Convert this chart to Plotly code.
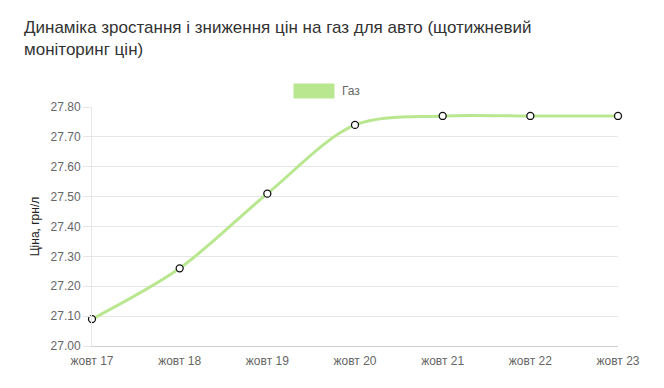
import plotly.graph_objects as go

categories = ["жовт 17", "жовт 18", "жовт 19", "жовт 20", "жовт 21", "жовт 22", "жовт 23"]
gas_prices = [27.09, 27.26, 27.51, 27.74, 27.77, 27.77, 27.77]
series_name = "Газ"
title_text = "Динаміка зростання і зниження цін на газ для авто (щотижневий<br>моніторинг цін)"
y_title = "Ціна, грн/л"

font_family = "Liberation Sans, Arial, sans-serif"
line_color = "#b9e78f"
grid_color = "#e6e6e6"

# page body has an 8px margin, so the figure is sized/offset accordingly
PL, PT, PW, PH = 84, 99, 526, 239

fig = go.Figure()
fig.add_trace(go.Scatter(
    x=categories, y=gas_prices, name=series_name, mode="lines+markers",
    line=dict(color=line_color, width=3, shape="spline", smoothing=0.9),
    marker=dict(size=7, color="white", line=dict(color="#111111", width=1.3)),
    showlegend=False, cliponaxis=False,
))

fig.update_layout(
    width=656, height=380,
    margin=dict(l=PL, r=46, t=PT, b=42, autoexpand=False),
    paper_bgcolor="white", plot_bgcolor="white",
    font=dict(family=font_family, size=12, color="#666666"),
    showlegend=False,
    xaxis=dict(type="category", range=[0, 6], showgrid=False, showline=True, automargin=False,
               linecolor="#d0d0d0", linewidth=1, ticks="outside", ticklen=4,
               tickcolor="rgba(0,0,0,0)", tickfont=dict(size=12, color="#666666"),
               zeroline=False),
    yaxis=dict(range=[27.0, 27.8], dtick=0.1, tickformat=".2f", showgrid=True, automargin=False,
               gridcolor=grid_color, gridwidth=1, showline=True, linecolor=grid_color,
               ticks="outside", ticklen=8, tickcolor=grid_color,
               tickfont=dict(size=12, color="#666666"), zeroline=False,
               title=dict(text=y_title, font=dict(size=12, color="#222222"), standoff=8)),
)

def px_x(x):  # page pixel -> paper x
    return (x - 8 - PL) / PW

def px_y(y):  # page pixel -> paper y
    return (PT + PH - (y - 8)) / PH

# title as paper annotation
fig.add_annotation(text=title_text, xref="paper", yref="paper",
                   x=px_x(22), y=px_y(16), xanchor="left", yanchor="top",
                   align="left", showarrow=False,
                   font=dict(size=17, color="#333333", family=font_family))

# legend drawn as shape + annotation (chart.js style box)
fig.add_shape(type="rect", xref="paper", yref="paper",
              x0=px_x(294), x1=px_x(334), y0=px_y(98), y1=px_y(84),
              fillcolor=line_color, line=dict(color=line_color, width=1))
fig.add_annotation(text=series_name, xref="paper", yref="paper",
                   x=px_x(340), y=px_y(91), xanchor="left", yanchor="middle",
                   showarrow=False, font=dict(size=12, color="#666666"))

fig.write_html("out.html")
